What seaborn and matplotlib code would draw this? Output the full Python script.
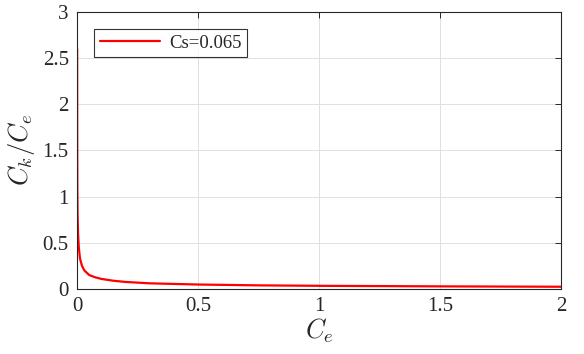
import seaborn as sns
import matplotlib.pyplot as plt
import pandas as pd

# values
ce = [0.0002, 0.0005, 0.001, 0.002, 0.004, 0.007, 0.012, 0.02, 0.03, 0.05,
      0.075, 0.1, 0.15, 0.2, 0.3, 0.5, 0.75, 1.0, 1.5, 2.0]
ck_ce = [2.6, 1.6, 1.1, 0.8, 0.6, 0.45, 0.33, 0.25, 0.2, 0.15,
         0.125, 0.108, 0.088, 0.075, 0.06, 0.047, 0.038, 0.033, 0.027, 0.023]
series_label = 'Cs=0.065'

df = pd.DataFrame({'Ce': ce, 'ratio': ck_ce})

sns.set_style('white')
plt.rcParams['font.family'] = ['Liberation Serif', 'DejaVu Serif']
plt.rcParams['mathtext.fontset'] = 'cm'

fig = plt.figure(figsize=(5.84, 3.54), dpi=100)
ax = fig.add_axes([0.132, 0.184, 0.829, 0.782])

sns.lineplot(data=df, x='Ce', y='ratio', color='#ff0000', linewidth=1.6,
             label=series_label, ax=ax)

ax.set_xlim(0, 2)
ax.set_ylim(0, 3)
ax.set_xticks([0, 0.5, 1, 1.5, 2])
ax.set_xticklabels(['0', '0.5', '1', '1.5', '2'])
ax.set_yticks([0, 0.5, 1, 1.5, 2, 2.5, 3])
ax.set_yticklabels(['0', '0.5', '1', '1.5', '2', '2.5', '3'])
ax.grid(True, color='#e0e0e0', linewidth=0.7)
ax.tick_params(direction='in', length=4, width=0.7, top=True, right=True,
               labelsize=15, colors='#262626', pad=6)
for s in ax.spines.values():
    s.set_color('#262626')
    s.set_linewidth(0.8)

ax.set_xlabel('$C_e$', fontsize=19, labelpad=0)
ax.set_ylabel('$C_k/C_e$', fontsize=19, labelpad=4)

leg = ax.legend(loc='upper left', fontsize=13.5, frameon=True, fancybox=False,
                edgecolor='black', borderaxespad=0.9, handlelength=3.2,
                borderpad=0.3, handletextpad=0.5)
leg.get_frame().set_linewidth(0.8)

fig.savefig('out.png', dpi=100)
